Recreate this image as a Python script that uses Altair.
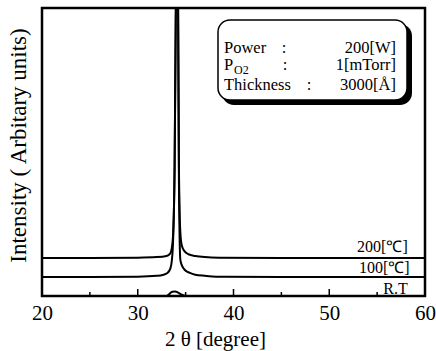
import altair as alt
import pandas as pd

FONT = "Liberation Serif"

# --- data -------------------------------------------------------------
x_200 = [20, 25, 30, 32, 33.0, 33.4, 33.55, 33.7, 33.85, 34.0, 34.1, 34.2, 34.3, 34.45, 34.6, 34.9, 35.3, 36, 37, 38.5, 45, 60]
y_200 = [13.2, 13.2, 13.3, 13.5, 13.9, 14.8, 16.5, 22, 45, 110, 130, 110, 45, 22, 17.5, 15.5, 14.5, 13.9, 13.5, 13.3, 13.2, 13.2]

x_100 = [20, 25, 30, 32, 32.6, 33.1, 33.4, 33.55, 33.7, 33.85, 34.0, 34.1, 34.2, 34.3, 34.45, 34.7, 35.0, 35.45, 36, 37, 38.2, 45, 60]
y_100 = [6.6, 6.6, 6.7, 7.0, 7.3, 8.0, 9.5, 12, 20, 45, 110, 130, 110, 40, 12.5, 10, 8.8, 8.0, 7.4, 7.0, 6.7, 6.6, 6.6]

x_rt = [20, 33.0, 33.3, 33.6, 33.9, 34.2, 34.5, 35.0, 60]
y_rt = [0.0, 0.0, 0.7, 1.5, 1.6, 1.2, 0.6, 0.0, 0.0]

series_names = ["200[℃]", "100[℃]", "R.T"]
series_label_y = [15.2, 8.1, 0.6]
series_label_x = [58.2, 58.4, 58.2]

major_ticks = [20, 30, 40, 50, 60]
minor_ticks = [25, 35, 45, 55]

box_left = ["Power", "P", "Thickness"]
box_colon = [":", ":", ":"]
box_value = ["200[W]", "1[mTorr]", "3000[Å]"]

W, H = 383, 288

rows = []
for name, xs, ys in zip(series_names, [x_200, x_100, x_rt], [y_200, y_100, y_rt]):
    for i, (a, b) in enumerate(zip(xs, ys)):
        rows.append({"series": name, "x": a, "y": b, "order": i})
df = pd.DataFrame(rows)

xscale = alt.Scale(domain=[20, 60], nice=False, zero=False)
yscale = alt.Scale(domain=[0, 100], nice=False, zero=False)

lines = alt.Chart(df).mark_line(color="black", strokeWidth=2, clip=True, interpolate="monotone").encode(
    x=alt.X("x:Q", scale=xscale, axis=alt.Axis(
        values=major_ticks, ticks=False, domain=False, grid=False, labelFlush=False,
        labelFont=FONT, labelFontSize=21, labelColor="black", labelPadding=6,
        title="2 θ [degree]", titleFont=FONT, titleFontSize=21, titleFontWeight="normal",
        titleColor="black", titleX=173, titleY=49, titleBaseline="alphabetic", titleAlign="center")),
    y=alt.Y("y:Q", scale=yscale, axis=alt.Axis(
        labels=False, ticks=False, domain=False, grid=False,
        title="Intensity ( Arbitary  units)", titleFont=FONT, titleFontSize=23,
        titleFontWeight="normal", titleColor="black", titleX=-24, titleY=137,
        titleAngle=-90, titleAlign="center", titleBaseline="middle")),
    detail="series:N",
    order="order:Q",
)

ticks_major = alt.Chart(pd.DataFrame({"x": major_ticks})).mark_rule(color="black", strokeWidth=1.5).encode(
    x=alt.X("x:Q", scale=xscale), y=alt.value(H), y2=alt.value(H - 7))
ticks_minor = alt.Chart(pd.DataFrame({"x": minor_ticks})).mark_rule(color="black", strokeWidth=1.5).encode(
    x=alt.X("x:Q", scale=xscale), y=alt.value(H), y2=alt.value(H - 4))

lab_df = pd.DataFrame({"name": series_names, "x": series_label_x, "y": series_label_y})
labels = alt.Chart(lab_df).mark_text(font=FONT, fontSize=16, color="black", align="right",
                                      baseline="alphabetic").encode(
    x=alt.X("x:Q", scale=xscale), y=alt.Y("y:Q", scale=yscale), text="name:N")

one = pd.DataFrame({"a": [0]})
shadow = alt.Chart(one).mark_rect(color="black", cornerRadius=12).encode(
    x=alt.value(180), x2=alt.value(370), y=alt.value(16), y2=alt.value(97))
box = alt.Chart(one).mark_rect(fill="white", stroke="black", strokeWidth=1.5, cornerRadius=12).encode(
    x=alt.value(176), x2=alt.value(365), y=alt.value(12), y2=alt.value(92))

box_y = [45, 62, 82]
bt = pd.DataFrame({"left": box_left, "colon": box_colon, "value": box_value, "py": box_y,
                   "cx": [242, 243, 267]})
t_left = alt.Chart(bt).mark_text(font=FONT, fontSize=16.5, color="black", align="left",
                                 baseline="alphabetic").encode(
    x=alt.value(182), y=alt.Y("py:Q", scale=None), text="left:N")
t_colon = alt.Chart(bt).mark_text(font=FONT, fontSize=16.5, color="black", align="center",
                                  baseline="alphabetic").encode(
    x=alt.X("cx:Q", scale=None), y=alt.Y("py:Q", scale=None), text="colon:N")
t_value = alt.Chart(bt).mark_text(font=FONT, fontSize=16.5, color="black", align="right",
                                  baseline="alphabetic").encode(
    x=alt.value(354), y=alt.Y("py:Q", scale=None), text="value:N")
t_sub = alt.Chart(pd.DataFrame({"t": ["O2"]})).mark_text(font=FONT, fontSize=12, color="black",
                                                        align="left", baseline="alphabetic").encode(
    x=alt.value(192), y=alt.value(66), text="t:N")

chart = alt.layer(lines, ticks_major, ticks_minor, labels, shadow, box, t_left, t_colon, t_value, t_sub).properties(
    width=W, height=H,
    autosize=alt.AutoSizeParams(type="none"),
    padding={"left": 42, "top": 8, "right": 11, "bottom": 55},
    background="white",
).configure_view(stroke="black", strokeWidth=2.5)

chart.save("out.html", embed_options={"renderer": "svg", "actions": False})
